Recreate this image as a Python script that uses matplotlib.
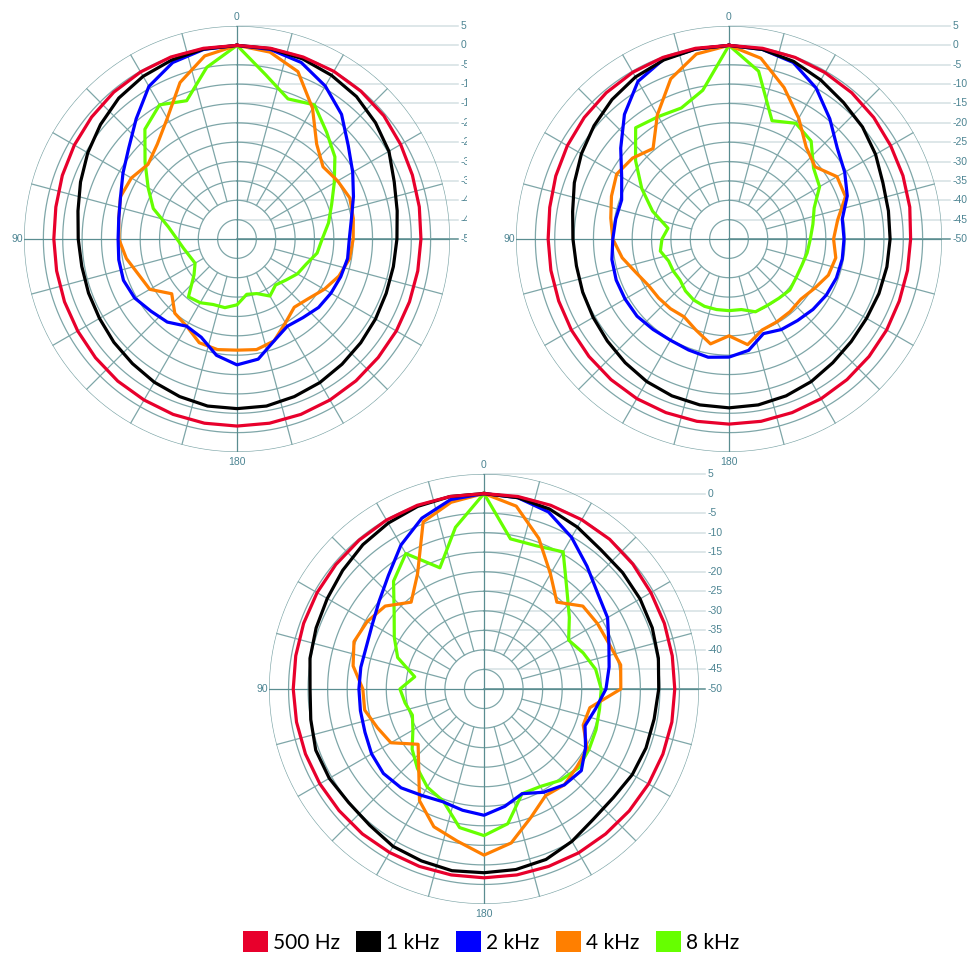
import numpy as np
import matplotlib
matplotlib.use("Agg")
import matplotlib.pyplot as plt
from matplotlib.transforms import IdentityTransform
from matplotlib.patches import Patch

plt.rcParams['font.family'] = ['Lato', 'DejaVu Sans']

# ---- scale -------------------------------------------------------------
R_MIN, R_MAX = -50, 5
RING_LEVELS = list(range(-45, 6, 5))
LABEL_LEVELS = list(range(5, -51, -5))
ANGLES = list(range(0, 360, 10))

SERIES = ["500 Hz", "1 kHz", "2 kHz", "4 kHz", "8 kHz"]
COLORS = ["#e8002c", "#000000", "#0000ff", "#ff7f00", "#66ff00"]

# ---- directivity data (dB, angles 0..350 step 10, counter-clockwise) ---
a_500 = [0, 0, 0, -0.2, -0.5, -1, -1.5, -2, -2.5, -2.7,
         -2.7, -2.6, -2.5, -2.3, -2.1, -2, -1.8, -1.7,
         -1.7, -1.7, -1.8, -2, -2.2, -2.4, -2.5, -2.6, -2.6,
         -2.5, -2.2, -1.8, -1.2, -0.5, -0.2, 0, 0, 0]
a_1k = [0, -0.2, -0.8, -1.5, -2.5, -4, -5.5, -7, -8.3, -9,
        -9.3, -9.2, -9, -8.5, -8, -7.3, -6.7, -6.2,
        -6.2, -6.2, -6.7, -7.2, -7.8, -8.3, -8.7, -9, -9,
        -8.7, -8, -6.8, -4.7, -3.3, -2, -1.2, -0.5, -0.1]
a_2k = [0, -0.3, -1.5, -4.5, -9.5, -13.5, -16, -18, -19, -19.3,
        -19, -18.8, -19.5, -21, -22, -24, -23, -19.5,
        -17.5, -18.5, -22, -24, -23.5, -22.5, -22, -21.5, -21,
        -21, -20, -18, -15.5, -12.5, -8, -4.4, -1.5, -0.3]
a_4k = [0, -2, -7, -14, -18, -20, -18.5, -18, -19, -19.5,
        -21, -23, -24, -28, -25, -24, -21.5, -21,
        -21.3, -21, -22, -25, -27, -26, -24, -22, -20.5,
        -20, -19.5, -19, -20, -21, -18, -11, -4, -1]
a_8k = [0, -5, -12, -10, -13, -19, -23.5, -27, -32, -34.5,
        -36, -37, -37.5, -35.5, -30.5, -31, -32, -32,
        -33, -35.5, -35, -33, -34.5, -33.5, -32, -31, -29,
        -28, -26, -24, -21, -17, -14, -10, -11.5, -7]

b_500 = [0, 0, -0.1, -0.3, -0.7, -1.2, -1.8, -2.4, -3, -3.3,
         -3.3, -3.2, -3, -2.8, -2.6, -2.4, -2.3, -2.2,
         -2.2, -2.2, -2.3, -2.4, -2.6, -2.8, -3, -3.2, -3.2,
         -3.1, -2.6, -2.2, -1.8, -1.2, -0.7, -0.4, -0.1, 0]
b_1k = [0, -0.2, -0.8, -1.7, -3, -4.5, -6, -7.5, -9, -9.7,
        -10, -9.8, -9.5, -9, -8.3, -7.5, -6.9, -6.5,
        -6.4, -6.5, -6.9, -7.5, -8.3, -8.8, -9, -8.8, -8.6,
        -8.4, -8.2, -7.7, -6.3, -5, -4, -2.6, -1.2, -0.3]
b_2k = [0, -0.2, -0.6, -3, -8, -13.5, -18, -20.5, -20.3, -20,
        -19.3, -19, -19, -19, -19.5, -19.8, -19.5, -19,
        -19.5, -20.8, -24, -23, -22.5, -21.7, -21, -20.5, -20.3,
        -20.3, -20.3, -17.5, -15.5, -13.5, -9.5, -5, -1.5, -0.3]
b_4k = [0, -1.5, -6, -13, -19.5, -17.5, -16.5, -17.7, -19, -20,
        -22, -24.5, -26, -26.3, -26.5, -26.8, -25, -22.5,
        -25, -22.3, -25, -25.3, -25.5, -25.8, -24.5, -22.7, -22,
        -23, -21.5, -18, -17.8, -21, -19, -14, -8.4, -2.6]
b_8k = [0, -11, -14, -13.5, -12.5, -18.5, -24, -29, -34, -32.7,
        -32, -33.4, -33.4, -33.5, -32.5, -31.8, -31.5, -31.5,
        -31.5, -31.5, -30, -30.2, -30, -29.5, -30, -30, -29.5,
        -29, -28, -26.6, -23, -21.5, -17, -15.5, -17.5, -6]

c_500 = [0, 0, 0, -0.1, -0.3, -0.5, -0.7, -0.9, -1.1, -1.2,
         -1.3, -1.4, -1.5, -1.6, -1.6, -1.7, -1.7, -1.7,
         -1.7, -1.7, -1.7, -1.6, -1.6, -1.5, -1.4, -1.3, -1.2,
         -1.2, -1.1, -0.9, -0.7, -0.3, 0, 0, 0, 0]
c_1k = [0, 0, -0.3, -1, -1.8, -2.8, -3.7, -4.3, -4.8, -5.5,
        -5, -4.2, -4.3, -4.8, -4.5, -3.5, -3.2, -2.8,
        -3, -3.1, -3.6, -5, -6.5, -6.8, -6.2, -5.9, -5.8,
        -5.3, -4.7, -4.2, -3.9, -3.7, -3.5, -2.2, -1, -0.3]
c_2k = [0, -0.8, -3.5, -7.5, -12, -15, -17, -18, -18, -18,
        -17.9, -17.6, -16.8, -16.4, -17, -18.5, -19.3, -18.5,
        -17.7, -19.5, -21.5, -19.5, -18, -17.5, -20, -22.5, -21,
        -18.8, -17.5, -16, -13.5, -12, -9, -5.2, -1.8, -0.3]
c_4k = [0, -1.5, -4.5, -16, -21, -17, -15.5, -14.6, -16, -19,
        -19, -21, -22.5, -28, -24, -17, -12.5, -10.5,
        -7.5, -10, -15, -18.5, -18, -19, -19.5, -23, -22.5,
        -15, -14.5, -16, -16.5, -17, -21, -16, -9, -2.5]
c_8k = [0, -8, -17, -10, -14, -20, -23.5, -26.5, -32, -28.5,
        -29.5, -30.5, -29, -26, -23.5, -21, -19.5, -14,
        -12.5, -15, -21.5, -21.2, -19.5, -18.5, -19, -19.5, -20,
        -20, -21, -23, -25, -21.5, -17, -9.5, -11, -11]

# ---- layout (pixels, origin top-left) ------------------------------------
W, H = 970, 956
PANELS = [
    dict(center=(237, 239), radius=213, bg=(0, 0, 467, 468),
         data=[a_500, a_1k, a_2k, a_4k, a_8k]),
    dict(center=(729, 239), radius=213, bg=(467, 0, 970, 468),
         data=[b_500, b_1k, b_2k, b_4k, b_8k]),
    dict(center=(484, 689), radius=215, bg=(236, 466, 745, 924),
         data=[c_500, c_1k, c_2k, c_4k, c_8k]),
]

GRID = "#7ea6a8"
AXIS = "#5a8d90"
GUIDE = "#d4e0e3"
TXT = "#4c8492"
SMALL_FONT = dict(family=['Liberation Sans', 'DejaVu Sans'], fontsize=7.5, color=TXT)

fig = plt.figure(figsize=(W / 100, H / 100), dpi=100)
fig.patch.set_facecolor("white")
ident = IdentityTransform()

for i, p in enumerate(PANELS):
    x0, y0, x1, y1 = p["bg"]
    bg = fig.add_axes([x0 / W, 1 - y1 / H, (x1 - x0) / W, (y1 - y0) / H], zorder=3 * i)
    bg.set_facecolor("white")
    bg.set_xticks([])
    bg.set_yticks([])
    for s in bg.spines.values():
        s.set_visible(False)

    cx, cy = p["center"]
    rad = p["radius"]
    ax = fig.add_axes([(cx - rad) / W, 1 - (cy + rad) / H,
                       2 * rad / W, 2 * rad / H],
                      projection="polar", zorder=3 * i + 1)
    ax.set_facecolor("none")
    ax.set_theta_zero_location("N")
    ax.set_theta_direction(1)
    ax.set_ylim(R_MIN, R_MAX)
    ax.set_xticks([])
    ax.set_yticks([])
    ax.grid(False)
    ax.spines["polar"].set_visible(False)

    # rings
    th = np.linspace(0, 2 * np.pi, 721)
    for lvl in RING_LEVELS:
        ax.plot(th, np.full_like(th, lvl), color=GRID, lw=0.9, zorder=1)
    # spokes
    for deg in range(0, 360, 15):
        t = np.deg2rad(deg)
        if deg % 90 == 0:
            ax.plot([t, t], [R_MIN, R_MAX], color=AXIS, lw=0.9, zorder=1.1)
        else:
            ax.plot([t, t], [-40, R_MAX], color=GRID, lw=0.9, zorder=1)

    # level guides and labels on the right
    ox, _ = ax.transData.transform((0, R_MIN))
    for lvl in LABEL_LEVELS:
        _, py = ax.transData.transform((0, lvl))
        col = AXIS if lvl == R_MIN else GUIDE
        bg.plot([ox, ox + 221], [py, py], color=col, lw=1.1,
                transform=ident, clip_on=False)
        bg.text(ox + 224, py, f"{lvl}", transform=ident,
                ha="left", va="center", **SMALL_FONT)

    # angle labels
    tx, ty = ax.transData.transform((0, R_MAX))
    bg.text(tx, ty + 9, "0", transform=ident, ha="center", va="center", **SMALL_FONT)
    lx, ly = ax.transData.transform((np.pi / 2, R_MAX))
    bg.text(lx - 1, ly, "90", transform=ident, ha="right", va="center", **SMALL_FONT)
    bx, by = ax.transData.transform((np.pi, R_MAX))
    bg.text(bx, by - 10, "180", transform=ident, ha="center", va="center", **SMALL_FONT)

    # response curves (highest band first so 500 Hz sits on top)
    theta = np.deg2rad(ANGLES + [360])
    for k in range(len(SERIES) - 1, -1, -1):
        vals = list(p["data"][k]) + [p["data"][k][0]]
        ax.plot(theta, vals, color=COLORS[k], lw=2.3, zorder=3,
                solid_joinstyle="round", clip_on=False)

handles = [Patch(facecolor=c, edgecolor="none") for c in COLORS]
leg = fig.legend(handles, SERIES, loc="center", bbox_to_anchor=(491 / W, 1 - 942 / H),
                 ncol=5, frameon=False, fontsize=15, handlelength=1.18,
                 handleheight=1.18, handletextpad=0.25, columnspacing=0.8,
                 borderaxespad=0, borderpad=0)
leg.set_zorder(20)

fig.savefig("out.png", dpi=100, facecolor="white")
